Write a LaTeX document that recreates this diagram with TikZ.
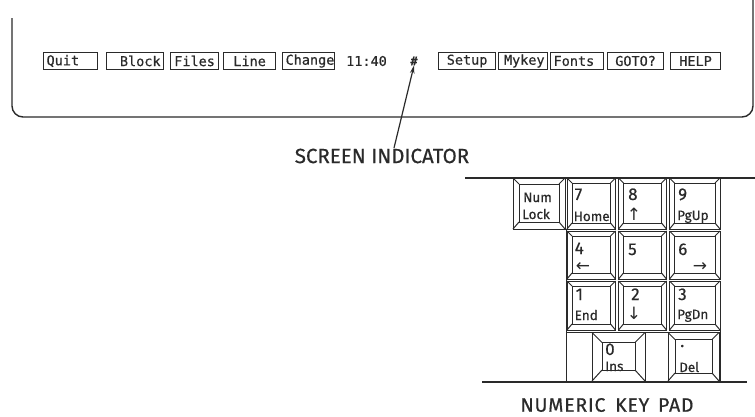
\documentclass[tikz,border=0pt]{standalone}
\usepackage{fontspec}
\setmainfont{Fira Sans}
\newfontfamily\btnfont[FakeBold=0.5]{DejaVu Sans Mono}
\newfontfamily\hand[FakeBold=0.5]{Fira Sans}
\newfontfamily\handwide[FakeBold=0.5,LetterSpace=4]{Fira Sans}
\newfontfamily\symf{DejaVu Sans}
\usetikzlibrary{arrows.meta}
\definecolor{ink}{HTML}{2A2A2A}
\newcommand\kpkey[5]{%
  \draw[keyline] (#1,#2) rectangle (#3,#4);
  \draw[keyline] (#1+#5,#2+#5) rectangle (#3-#5,#4-#5-1);
  \draw[keyline] (#1,#2) -- (#1+#5,#2+#5)
                 (#3,#2) -- (#3-#5,#2+#5)
                 (#1,#4) -- (#1+#5,#4-#5-1)
                 (#3,#4) -- (#3-#5,#4-#5-1);
}
\begin{document}
\begin{tikzpicture}[x=1pt,y=-1pt,
  every node/.style={text=ink},
  frameline/.style={draw=ink,line width=1.4pt},
  keyline/.style={draw=ink,line width=1pt},
  btn/.style={draw=ink,line width=1.2pt,minimum height=17pt,inner ysep=0pt,inner xsep=3pt,
     font=\btnfont\fontsize{13.5}{13.5}\selectfont},
  digit/.style={anchor=base west,inner sep=0pt,font=\hand\fontsize{17}{17}\selectfont},
  word/.style={anchor=base west,inner sep=0pt,font=\hand\fontsize{13.5}{13.5}\selectfont},
  arr/.style={inner sep=0pt,font=\symf\fontsize{17}{17}\selectfont},
  caption/.style={inner sep=0pt,font=\hand\fontsize{20.5}{20.5}\selectfont}
]
\useasboundingbox (0,0) rectangle (755,416);
% screen frame
\draw[frameline,rounded corners=11pt] (12,18) -- (12,117) -- (753,117) -- (753,0);
% buttons
\node[btn,anchor=west,text width=48pt,align=left] (quit) at (43,61) {Quit};
\node[btn,anchor=west,text width=51pt,align=right] (block) at (106,61) {Block};
\node[btn,anchor=west,text width=42pt,align=center] (files) at (170,61) {Files};
\node[btn,anchor=west,text width=46pt,align=center] (line) at (223,61) {Line};
\node[btn,anchor=west,text width=46pt,align=center] (change) at (282,61) {Change};
\node[anchor=west,inner sep=0pt,font=\btnfont\fontsize{13.5}{13.5}\selectfont] (time) at (346,61) {11:40};
\node[inner sep=0pt,font=\btnfont\bfseries\fontsize{12}{12}\selectfont] (hash) at (414,61) {\#};
\node[btn,anchor=west,text width=51pt,align=center] (setup) at (438,61) {Setup};
\node[btn,anchor=west,text width=43pt,align=right] (mykey) at (498,61) {Mykey};
\node[btn,anchor=west,text width=47pt,align=left] (fonts) at (550,61) {Fonts};
\node[btn,anchor=west,text width=50pt,align=center] (goto) at (607,61) {GOTO?};
\node[btn,anchor=west,text width=44pt,align=center] (help) at (670,61) {HELP};
% screen indicator
\node[caption] (indic) at (382,156) {SCREEN INDICATOR};
\coordinate (foot) at (394,148);
\draw[draw=ink,line width=1.2pt,-{Stealth[length=8pt,width=4.5pt]}] (foot) -- (hash.south);
% keypad lines
\draw[frameline,line width=1.3pt] (465,178) -- (755,178);
\draw[frameline,line width=1.3pt] (482,382) -- (747,382);
\draw[keyline] (566,229) -- (566,382);
\draw[keyline] (720,330) -- (720,382);
\draw[keyline] (566,332.5) -- (720,332.5);
% keys
\kpkey{513}{178}{565}{229}{6}
\kpkey{567}{178}{615.5}{229}{5}
\kpkey{618.5}{178}{666.5}{229}{5}
\kpkey{669.5}{178}{720}{229}{5}
\kpkey{567}{231}{615.5}{279}{5}
\kpkey{618.5}{231}{666.5}{279}{5}
\kpkey{669.5}{231}{720}{279}{5}
\kpkey{567}{281}{615.5}{330}{5}
\kpkey{618.5}{281}{666.5}{330}{5}
\kpkey{669.5}{281}{720}{330}{5}
\kpkey{592}{332.5}{645}{381}{10}
\kpkey{668}{332.5}{719}{381}{7}
% key labels
\node[word] (num) at (523,202) {Num};
\node[word] (lock) at (522,219) {Lock};
\node[digit] (k7) at (574.5,200) {7};
\node[word] (home) at (573.5,221) {Home};
\node[digit] (k8) at (628,200) {8};
\node[arr] (up) at (634,214) {↑};
\node[digit] (k9) at (678,200) {9};
\node[word] (pgup) at (677,220) {PgUp};
\node[digit] (k4) at (574.5,254) {4};
\node[arr] (left) at (583,267) {←};
\node[digit] (k5) at (628,255) {5};
\node[digit] (k6) at (678,255) {6};
\node[arr] (right) at (700,267) {→};
\node[digit] (k1) at (575.5,300) {1};
\node[word] (end) at (574.5,320) {End};
\node[digit] (k2) at (631,300) {2};
\node[arr] (down) at (634,313) {↓};
\node[digit] (k3) at (678,300) {3};
\node[word] (pgdn) at (677,319) {PgDn};
\node[digit] (k0) at (605,355) {0};
\node[word] (ins) at (605,371) {Ins};
\node[digit] (kdot) at (680,347) {.};
\node[word] (del) at (679,372) {Del};
% caption
\node[inner sep=0pt,font=\handwide\fontsize{19.5}{19.5}\selectfont] (numkp) at (607,405) {NUMERIC\hspace{0.5em}KEY\hspace{0.45em}PAD};
\end{tikzpicture}
\end{document}
